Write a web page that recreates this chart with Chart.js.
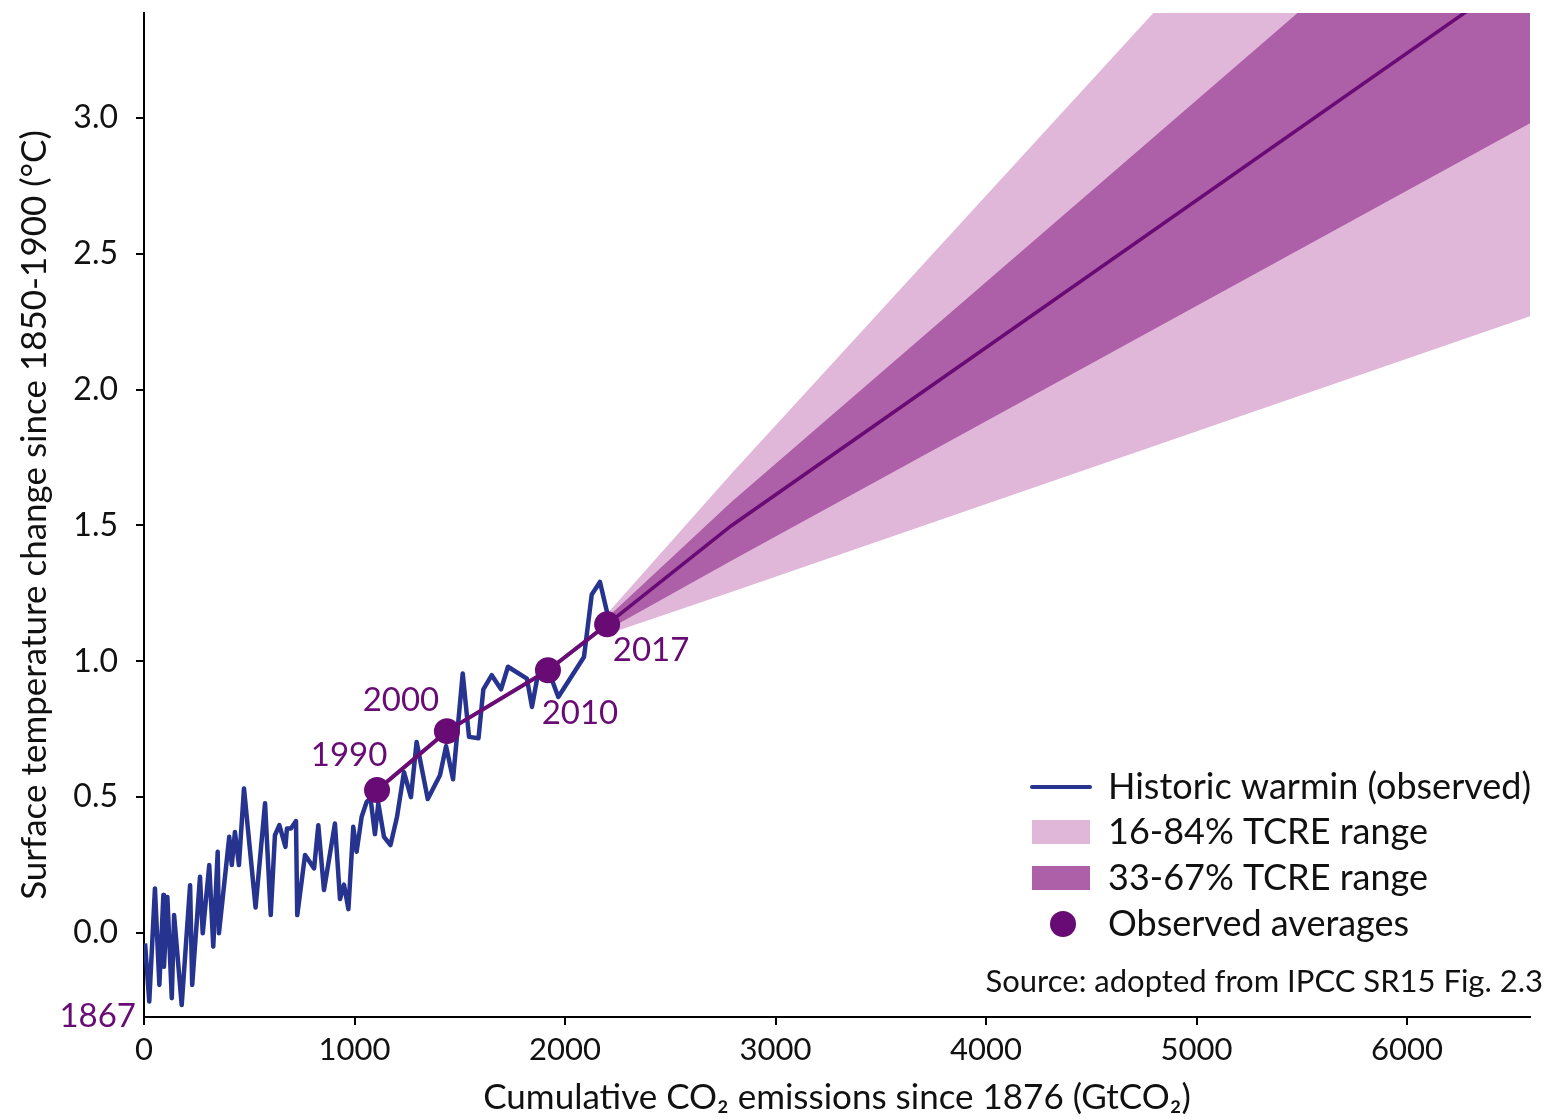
<!DOCTYPE html>
<html>
<head>
<meta charset="utf-8">
<script src="https://cdn.jsdelivr.net/npm/chart.js@4.4.1/dist/chart.umd.min.js"></script>
<style>
  html, body { margin: 0; padding: 0; background: #ffffff; }
  #wrap { width: 1550px; height: 1120px; }
</style>
</head>
<body>
<div id="wrap"><canvas id="c" width="1550" height="1120"></canvas></div>
<script>
// ---------- DATA ----------
// Historic observed warming (1867 -> 2017): cumulative CO2 emissions (GtCO2) and warming (°C)
const histEmissions = [5, 25, 52, 73, 92, 95, 111, 132, 143, 179, 219, 229, 266, 279, 310, 329, 350, 356, 405, 417,
  432, 451, 475, 530, 575, 602, 622, 643, 672, 679, 698, 722, 728, 765, 808, 828, 855, 907, 931, 950,
  971, 994, 1010, 1034, 1058, 1076, 1097, 1113, 1140, 1171, 1202, 1235, 1268, 1295, 1348, 1406, 1435, 1468, 1514, 1544,
  1589, 1612, 1652, 1696, 1729, 1819, 1843, 1868, 1921, 1968, 2090, 2127, 2166, 2200];
const histWarming = [-0.038, -0.252, 0.164, -0.191, 0.140, -0.124, 0.133, -0.240, 0.066, -0.265, 0.176, -0.191, 0.207, -0.001, 0.250, -0.050, 0.299, -0.001, 0.354, 0.250,
  0.372, 0.250, 0.532, 0.094, 0.478, 0.066, 0.360, 0.397, 0.317, 0.385, 0.385, 0.412, 0.066, 0.287, 0.238, 0.397, 0.158, 0.403, 0.125, 0.178,
  0.088, 0.391, 0.299, 0.428, 0.483, 0.496, 0.364, 0.477, 0.354, 0.324, 0.428, 0.592, 0.500, 0.703, 0.493, 0.581, 0.688, 0.566, 0.955, 0.722,
  0.717, 0.897, 0.949, 0.897, 0.980, 0.936, 0.832, 0.938, 0.967, 0.869, 1.016, 1.246, 1.292, 1.180];

// Observed decadal averages
const avgYears = ['1990', '2000', '2010', '2017'];
const avgEmissions = [1107, 1439, 1919, 2200];
const avgWarming = [0.526, 0.743, 0.967, 1.136];

// TCRE projection from 2017
const bandEmissions = [2200, 2790, 6584];
const tcreCentral = [1.136, 1.499, 3.555];
const tcre16 = [1.100, 1.255, 2.270];
const tcre84 = [1.175, 1.690, 4.900];
const tcre33 = [1.115, 1.370, 2.980];
const tcre67 = [1.160, 1.586, 4.125];

// Axis ticks
const xTicks = [0, 1000, 2000, 3000, 4000, 5000, 6000];
const yTicks = [0.0, 0.5, 1.0, 1.5, 2.0, 2.5, 3.0];

const firstYearLabel = '1867';
const legendLabels = ['Historic warmin (observed)', '16-84% TCRE range', '33-67% TCRE range', 'Observed averages'];
const sourceText = 'Source: adopted from IPCC SR15 Fig. 2.3';
const xTitle = 'Cumulative CO\u2082 emissions since 1876 (GtCO\u2082)';
const yTitle = 'Surface temperature change since 1850-1900 (\u00B0C)';

// ---------- STYLE ----------
const C_BLUE = '#26338f';
const C_PURPLE = '#680b74';
const C_LIGHT = '#e0b7d9';
const C_DARK = '#ad5fa8';
const FONT = 'Lato, "Open Sans", sans-serif';

const pts = (xs, ys) => xs.map((x, i) => ({x: x, y: ys[i]}));

const labelOffsets = [[-28, -35], [-46, -31], [32, 43], [44, 26]];

const overlayPlugin = {
  id: 'overlay',
  afterDraw(chart) {
    const ctx = chart.ctx;
    const xs = chart.scales.x, ys = chart.scales.y;
    const area = chart.chartArea;
    ctx.save();
    // year labels
    ctx.fillStyle = C_PURPLE;
    ctx.font = '33px ' + FONT;
    ctx.textAlign = 'center';
    ctx.textBaseline = 'middle';
    avgYears.forEach((yr, i) => {
      const px = xs.getPixelForValue(avgEmissions[i]);
      const py = ys.getPixelForValue(avgWarming[i]);
      ctx.fillText(yr, px + labelOffsets[i][0], py + labelOffsets[i][1]);
    });
    ctx.textAlign = 'right';
    ctx.fillText(firstYearLabel, area.left - 8, area.bottom - 1);

    // legend
    const lx = 1032, lw = 58, tx = 1108;
    const rows = [787, 832, 878, 924];
    ctx.font = '36px ' + FONT;
    ctx.textAlign = 'left';
    ctx.textBaseline = 'middle';
    ctx.strokeStyle = C_BLUE; ctx.lineWidth = 4; ctx.lineCap = 'round';
    ctx.beginPath(); ctx.moveTo(lx, rows[0]); ctx.lineTo(lx + lw, rows[0]); ctx.stroke();
    ctx.fillStyle = C_LIGHT; ctx.fillRect(lx, rows[1] - 12, lw, 24);
    ctx.fillStyle = C_DARK; ctx.fillRect(lx, rows[2] - 12, lw, 24);
    ctx.fillStyle = C_PURPLE; ctx.beginPath(); ctx.arc(lx + lw / 2 + 2, rows[3], 13, 0, Math.PI * 2); ctx.fill();
    ctx.fillStyle = '#111111';
    legendLabels.forEach((t, i) => ctx.fillText(t, tx, rows[i]));
    // source
    ctx.font = '31px ' + FONT;
    ctx.textAlign = 'right';
    ctx.fillText(sourceText, 1543, 982);
    ctx.restore();
  }
};

const chart = new Chart(document.getElementById('c'), {
  type: 'line',
  data: {
    datasets: [
      { label: 'obs-avg', data: pts(avgEmissions, avgWarming), borderColor: C_PURPLE, backgroundColor: C_PURPLE,
        borderWidth: 4, pointRadius: 13, pointHoverRadius: 13, pointBorderWidth: 0, order: 0, fill: false },
      { label: 'hist', data: pts(histEmissions, histWarming), borderColor: C_BLUE, borderWidth: 4.5,
        pointRadius: 0, order: 1, fill: false, borderJoinStyle: 'round' },
      { label: 'central', data: pts(bandEmissions, tcreCentral), borderColor: C_PURPLE, borderWidth: 3.5,
        pointRadius: 0, order: 2, fill: false },
      { label: 'dark-up', data: pts(bandEmissions, tcre67), borderWidth: 0, borderColor: 'rgba(0,0,0,0)',
        backgroundColor: C_DARK, pointRadius: 0, order: 3, fill: {target: 4} },
      { label: 'dark-lo', data: pts(bandEmissions, tcre33), borderWidth: 0, borderColor: 'rgba(0,0,0,0)',
        pointRadius: 0, order: 3, fill: false },
      { label: 'light-up', data: pts(bandEmissions, tcre84), borderWidth: 0, borderColor: 'rgba(0,0,0,0)',
        backgroundColor: C_LIGHT, pointRadius: 0, order: 4, fill: {target: 6} },
      { label: 'light-lo', data: pts(bandEmissions, tcre16), borderWidth: 0, borderColor: 'rgba(0,0,0,0)',
        pointRadius: 0, order: 4, fill: false }
    ]
  },
  options: {
    responsive: false,
    animation: false,
    events: [],
    layout: { padding: { left: 0, right: 20, top: 4, bottom: 0 } },
    plugins: { legend: { display: false }, tooltip: { enabled: false } },
    elements: { line: { tension: 0 } },
    scales: {
      x: {
        type: 'linear', min: 0, max: 6584,
        afterBuildTicks: (s) => { s.ticks = xTicks.map(v => ({value: v})); },
        afterFit: (s) => { s.height = 103; s.paddingLeft = 0; s.paddingRight = 0; },
        grid: { display: true, drawOnChartArea: false, drawTicks: true, tickLength: 8, color: '#000', lineWidth: 2 },
        border: { display: true, color: '#000', width: 2 },
        ticks: { color: '#111', font: { family: FONT, size: 31 }, padding: 6, maxRotation: 0,
                 callback: (v) => String(v) },
        title: { display: true, text: xTitle, color: '#111', font: { family: FONT, size: 35 }, padding: { top: 0, bottom: 1 } }
      },
      y: {
        type: 'linear', min: -0.309, max: 3.386,
        afterBuildTicks: (s) => { s.ticks = yTicks.map(v => ({value: v})); },
        afterFit: (s) => { s.width = 144; s.paddingTop = 0; s.paddingBottom = 0; },
        grid: { display: true, drawOnChartArea: false, drawTicks: true, tickLength: 8, color: '#000', lineWidth: 2 },
        border: { display: true, color: '#000', width: 2 },
        ticks: { color: '#111', font: { family: FONT, size: 32 }, padding: 18,
                 callback: (v) => Number(v).toFixed(1) },
        title: { display: true, text: yTitle, color: '#111', font: { family: FONT, size: 35 }, padding: { top: 14, bottom: 0 } }
      }
    }
  },
  plugins: [overlayPlugin]
});
</script>
</body>
</html>
